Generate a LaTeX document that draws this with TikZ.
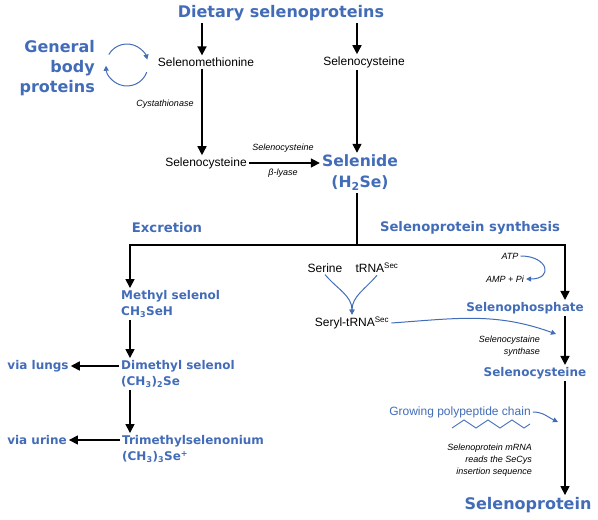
\documentclass[tikz,border=0pt]{standalone}
\usepackage{fontspec}
\setmainfont{Liberation Sans}
\newfontfamily\heavy{DejaVu Sans}
\usetikzlibrary{arrows.meta}
\definecolor{selblue}{RGB}{66,108,184}

\begin{document}
\begin{tikzpicture}[x=1pt,y=1pt,inner sep=2pt,
  head/.style={text=selblue,font=\fontsize{16}{20}\selectfont\heavy\bfseries,align=center},
  sub/.style={text=selblue,font=\fontsize{13.2}{16}\selectfont\heavy\bfseries},
  met/.style={text=selblue,font=\fontsize{12}{16.5}\selectfont\heavy\bfseries,align=left,anchor=west},
  plain/.style={font=\fontsize{12}{14}\selectfont},
  enz/.style={font=\fontsize{9}{12}\selectfont\itshape,align=right},
  arr/.style={line width=1.6pt,-{Triangle[width=9pt,length=9pt]}},
  barr/.style={selblue,line width=1pt,-{Triangle[width=5pt,length=5pt]}}]
  \useasboundingbox (0,0) rectangle (598,520);
  \node[head] (diet) at (281,507) {Dietary selenoproteins};
  \node[head,anchor=east,align=right] (gbp) at (97,452) {General\\body\\proteins};
  \node[plain] (selmet) at (206,458) {Selenomethionine};
  \node[plain] (selcysA) at (364,458) {Selenocysteine};
  \node[enz] (cysta) at (165,416) {Cystathionase};
  \node[plain] (selcysB) at (206,357) {Selenocysteine};
  \node[head,font=\fontsize{15.6}{21}\selectfont\heavy\bfseries] (selenide) at (360,347) {Selenide\\(H\textsubscript{2}Se)};
  \node[enz] (lyA) at (283,372) {Selenocysteine};
  \node[enz] (lyB) at (283,347) {β-lyase};
  \node[sub] (exc) at (167,292) {Excretion};
  \node[sub] (syn) at (470,292) {Selenoprotein synthesis};
  \node[met] (methyl) at (119,216) {Methyl selenol\\CH\textsubscript{3}SeH};
  \node[met] (dimethyl) at (119,146) {Dimethyl selenol\\(CH\textsubscript{3})\textsubscript{2}Se};
  \node[met] (trimethyl) at (120,71) {Trimethylselenonium\\(CH\textsubscript{3})\textsubscript{3}Se\textsuperscript{+}};
  \node[met,anchor=center] (lungs) at (38,154) {via lungs};
  \node[met,anchor=center] (urine) at (37,80) {via urine};
  \node[plain] (serine) at (325,252) {Serine};
  \node[plain] (trna) at (377,252) {tRNA\textsuperscript{Sec}};
  \node[plain] (seryl) at (352,197) {Seryl-tRNA\textsuperscript{Sec}};
  \node[enz] (atp) at (510,264) {ATP};
  \node[enz] (amp) at (505,241) {AMP + Pi};
  \node[met,anchor=center] (selph) at (525,212) {Selenophosphate};
  \node[enz,anchor=east] (synthase) at (542,174) {Selenocystaine\\synthase};
  \node[met,anchor=center] (selcysC) at (535,147) {Selenocysteine};
  \node[plain,text=selblue] (grow) at (460,108) {Growing polypeptide chain};
  \node[enz,anchor=east] (mrna) at (534,60) {Selenoprotein mRNA\\reads the SeCys\\insertion sequence};
  \node[head] (selprot) at (528,15) {Selenoprotein};
  \coordinate (split) at (357,275);
  \coordinate (exit) at (130,275);
  \coordinate (make) at (565,275);
  \coordinate (cyc) at (127,455);
  \coordinate (stip) at (556,186);
  \coordinate (gtip) at (558,98);
  \draw[arr] (diet.south -| 202,0) -- (202,0 |- selmet.north);
  \draw[arr] (diet.south -| split) -- (split |- selcysA.north);
  \draw[arr] (202,0 |- selmet.south) -- (202,0 |- selcysB.north);
  \draw[arr] (split |- selcysA.south) -- (split |- selenide.north);
  \draw[arr] (selcysB.east) -- (selcysB.east -| selenide.west);
  \draw[line width=1.6pt] (split |- selenide.south) -- (split);
  \draw[arr] (split) -- (exit) -- (exit |- methyl.north);
  \draw[arr] (split) -- (make) -- (make |- selph.north);
  \draw[arr] (exit |- methyl.south) -- (exit |- dimethyl.north);
  \draw[arr] (exit |- dimethyl.south) -- (exit |- trimethyl.north);
  \draw[arr] (dimethyl.west |- lungs) -- (lungs.east);
  \draw[arr] (trimethyl.west |- urine) -- (urine.east);
  \draw[arr] (make |- selph.south) -- (make |- selcysC.north);
  \draw[arr] (make |- selcysC.south) -- (make |- selprot.north);
  \draw[barr] ([shift={(150:21)}]cyc) arc[start angle=150,end angle=15,radius=21];
  \draw[barr] ([shift={(-20:21)}]cyc) arc[start angle=-20,end angle=-178,radius=21];
  \draw[barr] (serine.south) to[out=-50,in=90] (seryl.north);
  \draw[barr] (trna.south) to[out=-130,in=90] (seryl.north);
  \draw[barr] (atp.east) to[out=0,in=0,looseness=3] (amp.east);
  \draw[barr] (seryl.east) to[out=4,in=160] (stip);
  \draw[barr] (grow.east) to[out=0,in=155] (gtip);
  \draw[selblue,line width=0.9pt] (452,92) -- (464,100) -- (476,92) -- (488,100) -- (500,92) -- (512,100) -- (524,92) -- (530,96);
\end{tikzpicture}
\end{document}
